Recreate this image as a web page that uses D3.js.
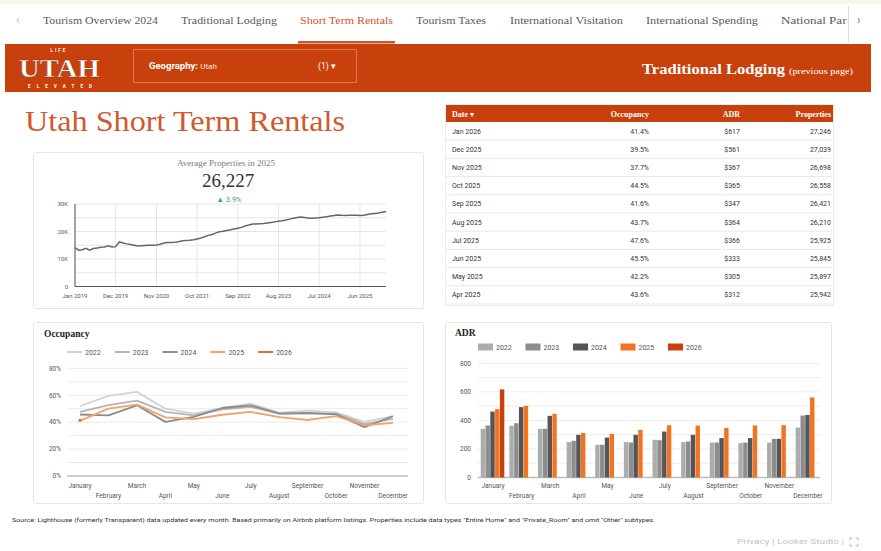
<!DOCTYPE html>
<html>
<head>
<meta charset="utf-8">
<script src="https://cdn.jsdelivr.net/npm/d3@7"></script>
<style>
body { margin: 0; background: #fff; }
svg text { font-family: Roboto, 'Liberation Sans', sans-serif; }
.serif { font-family: 'Liberation Serif', 'DejaVu Serif', serif !important; }
</style>
</head>
<body>
<svg id="page" width="881" height="551"></svg>
<script>
// ---------- data ----------
const navTabs = ['Tourism Overview 2024', 'Traditional Lodging', 'Short Term Rentals', 'Tourism Taxes',
	'International Visitation', 'International Spending', 'National Park'];

const propStart = new Date(2019, 0, 1);
const propValues = [
	14100, 13200, 13400, 13900, 13200, 13800, 14000, 14300, 14400, 14800, 14400, 14500,
	16200, 15800, 15500, 15300, 15000, 14700, 14800, 14900, 15000, 15000, 15100, 15400,
	15800, 16000, 16000, 16100, 16300, 16600, 16700, 16800, 17000, 17300, 17600, 18100,
	18600, 18900, 19400, 19900, 20100, 20400, 20600, 20900, 21200, 21500, 22000, 22400,
	22700, 22700, 22800, 22900, 23100, 23300, 23500, 23700, 23900, 24200, 24500, 24800,
	25100, 25300, 25100, 24900, 24800, 24900, 25000, 25200, 25400, 25600, 25800, 26000,
	25900, 25850, 25900, 25942, 25897, 25845, 25925, 26210, 26421, 26558, 26698, 27039,
	27246];
const propTicks = ['Jan 2019', 'Dec 2019', 'Nov 2020', 'Oct 2021', 'Sep 2022', 'Aug 2023', 'Jul 2024', 'Jun 2025'];
const kpiValue = 26227, kpiChange = 3.9;

const tableDates = ['Jan 2026', 'Dec 2025', 'Nov 2025', 'Oct 2025', 'Sep 2025', 'Aug 2025', 'Jul 2025', 'Jun 2025', 'May 2025', 'Apr 2025'];
const tableOcc = [41.4, 39.5, 37.7, 44.5, 41.6, 43.7, 47.6, 45.5, 42.2, 43.6];
const tableAdr = [617, 561, 367, 365, 347, 364, 366, 333, 305, 312];
const tableProps = [27246, 27039, 26698, 26558, 26421, 26210, 25925, 25845, 25897, 25942];

const months = ['January', 'February', 'March', 'April', 'May', 'June', 'July', 'August', 'September', 'October', 'November', 'December'];
const years = ['2022', '2023', '2024', '2025', '2026'];

const occ2022 = [52, 59.5, 62.5, 50, 46.4, 50.5, 53.8, 47, 48.5, 47.2, 40.2, 44.4];
const occ2023 = [47.6, 52.6, 56, 47.6, 45, 49.5, 51.3, 46.4, 46.5, 46.4, 38.5, 42.5];
const occ2024 = [45.7, 45, 52.5, 40.2, 44, 50.5, 52.5, 46.4, 46.8, 45.8, 36.3, 44.4];
const occ2025 = [41, 50, 53, 43.6, 42.2, 45.5, 47.6, 43.7, 41.6, 44.5, 37.7, 39.5];
const occ2026 = [41.4];

const adr2022 = [341, 362, 341, 248, 229, 248, 264, 248, 245, 241, 245, 350];
const adr2023 = [364, 380, 341, 257, 229, 245, 261, 252, 245, 245, 271, 434];
const adr2024 = [462, 493, 432, 299, 280, 299, 322, 299, 276, 276, 271, 438];
const adr2025 = [479, 502, 446, 312, 305, 333, 366, 364, 347, 365, 367, 561];
const adr2026 = [617];

const occColors = ['#d2d2d2', '#b4b4b4', '#8c8c8c', '#f5a16b', '#e8692f'];
const adrColors = ['#acacac', '#8d8d8d', '#555555', '#f47321', '#c9400d'];
const orange = '#c8410c';

// tab layout (left edge, width)
const navLeft = [43, 181, 300, 416, 510, 646, 781];
const navWidth = [115, 96, 93, 70, 113, 112, 72];

// ---------- page ----------
let svg = d3.select('#page');

svg.append('rect').attr('width', 881).attr('height', 4).attr('fill', '#f6f6ee');

// nav tabs
let clip = svg.append('defs').append('clipPath').attr('id', 'navclip');
clip.append('rect').attr('x', 30).attr('y', 0).attr('width', 817).attr('height', 44);
let nav = svg.append('g').attr('clip-path', 'url(#navclip)');
navTabs.forEach((t, i) => {
	nav.append('text')
		.attr('class', 'serif')
		.attr('x', navLeft[i]).attr('y', 24)
		.attr('textLength', navWidth[i]).attr('lengthAdjust', 'spacingAndGlyphs')
		.style('font-size', '11px')
		.style('fill', i == 2 ? '#d0562a' : '#5a5a5a')
		.text(t);
	if (i == 2)
		nav.append('rect').attr('x', navLeft[i] - 2).attr('y', 41).attr('width', navWidth[i] + 4).attr('height', 2.5).attr('fill', '#d0562a');
});
svg.append('text').attr('x', 16).attr('y', 24).style('font-size', '12px').style('fill', '#bbb').text('‹');
svg.append('text').attr('x', 857).attr('y', 24).style('font-size', '12px').style('fill', '#777').text('›');
svg.append('line').attr('x1', 848.5).attr('x2', 848.5).attr('y1', 6).attr('y2', 42).attr('stroke', '#ddd');

// header band
svg.append('rect').attr('x', 5).attr('y', 44).attr('width', 866).attr('height', 48).attr('fill', orange);
svg.append('text').attr('x', 59).attr('y', 52).attr('text-anchor', 'middle')
	.style('font-size', '4.5px').style('font-weight', 'bold').style('letter-spacing', '2px').style('fill', '#fff').text('LIFE');
svg.append('text').attr('class', 'serif').attr('x', 19).attr('y', 77)
	.attr('textLength', 81).attr('lengthAdjust', 'spacingAndGlyphs')
	.style('font-size', '26px').style('font-weight', 'bold').style('fill', '#fff')
	.style('stroke', '#7a2a08').style('stroke-width', 0.4).text('UTAH');
svg.append('text').attr('x', 28).attr('y', 88)
	.attr('textLength', 64).attr('lengthAdjust', 'spacing')
	.style('font-size', '4.5px').style('font-weight', 'bold').style('fill', '#fff').text('ELEVATED');

svg.append('rect').attr('x', 133.5).attr('y', 49.5).attr('width', 223).attr('height', 33)
	.attr('fill', 'none').attr('stroke', '#e0774c');
svg.append('text').attr('x', 149).attr('y', 69).style('fill', '#fff')
	.call(t => {
		t.append('tspan').style('font-size', '9.5px').style('font-weight', 'bold').text('Geography');
		t.append('tspan').style('font-size', '9.5px').style('font-weight', 'bold').text(': ');
		t.append('tspan').style('font-size', '8px').style('fill', '#fbe3d8').text('Utah');
	});
svg.append('text').attr('x', 318).attr('y', 69).style('font-size', '8.5px').style('fill', '#fff').text('(1)  ▾');

svg.append('text').attr('class', 'serif').attr('x', 642).attr('y', 74)
	.attr('textLength', 143).attr('lengthAdjust', 'spacingAndGlyphs')
	.style('font-size', '15.5px').style('font-weight', 'bold').style('fill', '#fff').text('Traditional Lodging');
svg.append('text').attr('class', 'serif').attr('x', 789).attr('y', 74)
	.attr('textLength', 64).attr('lengthAdjust', 'spacingAndGlyphs')
	.style('font-size', '8px').style('fill', '#fff').text('(previous page)');

// title
svg.append('text').attr('class', 'serif').attr('x', 25).attr('y', 131)
	.attr('textLength', 320).attr('lengthAdjust', 'spacingAndGlyphs')
	.style('font-size', '29px').style('fill', '#d0592d').text('Utah Short Term Rentals');

function card(x, y, w, h) {
	svg.append('rect').attr('x', x + 0.5).attr('y', y + 0.5).attr('width', w).attr('height', h).attr('rx', 2)
		.attr('fill', '#fff').attr('stroke', '#e6e6e6');
}

// ---------- properties card ----------
card(33, 152, 390, 156);
svg.append('text').attr('class', 'serif').attr('x', 226).attr('y', 166).attr('text-anchor', 'middle')
	.style('font-size', '9px').style('fill', '#7a7a7a').text('Average Properties in 2025');
svg.append('text').attr('class', 'serif').attr('x', 228).attr('y', 187).attr('text-anchor', 'middle')
	.style('font-size', '19px').style('fill', '#333').text(d3.format(',')(kpiValue));
svg.append('text').attr('x', 229).attr('y', 201.5).attr('text-anchor', 'middle')
	.style('font-size', '7.5px').style('fill', '#41a85f').text('▲ ' + kpiChange + '%');

let propDates = propValues.map((d, i) => d3.timeMonth.offset(propStart, i));
let parseTick = d3.timeParse('%b %Y');
let px = d3.scaleTime().domain(d3.extent(propDates)).range([75, 386]);
let py = d3.scaleLinear().domain([0, 30000]).range([286.5, 204]);
let pg = svg.append('g');

pg.selectAll('.hgrid').data(d3.range(0, 30001, 5000)).enter().append('line')
	.attr('x1', 75).attr('x2', 386).attr('y1', d => py(d)).attr('y2', d => py(d))
	.attr('stroke', '#e6e6e6');
pg.selectAll('.vgrid').data(propTicks.map(parseTick)).enter().append('line')
	.attr('x1', d => px(d)).attr('x2', d => px(d)).attr('y1', 204).attr('y2', 286.5)
	.attr('stroke', '#e6e6e6');
pg.append('line').attr('x1', 75).attr('x2', 75).attr('y1', 204).attr('y2', 286.5).attr('stroke', '#555');
pg.append('line').attr('x1', 75).attr('x2', 386).attr('y1', 286.5).attr('y2', 286.5).attr('stroke', '#555');
pg.selectAll('.ylab').data([0, 10000, 20000, 30000]).enter().append('text')
	.attr('x', 68).attr('y', d => py(d) + 2).attr('text-anchor', 'end')
	.style('font-size', '6px').style('fill', '#555')
	.text(d => d == 0 ? '0' : d / 1000 + 'K');
pg.selectAll('.xlab').data(propTicks).enter().append('text')
	.attr('x', d => px(parseTick(d))).attr('y', 298).attr('text-anchor', 'middle')
	.style('font-size', '6px').style('fill', '#555').text(d => d);
pg.append('path')
	.attr('d', d3.line().x((d, i) => px(propDates[i])).y(d => py(d))(propValues))
	.attr('fill', 'none').attr('stroke', '#666').attr('stroke-width', 1.5);

// ---------- table ----------
svg.append('rect').attr('x', 445.5).attr('y', 104.5).attr('width', 388).attr('height', 201)
	.attr('fill', '#fff').attr('stroke', '#ececec');
svg.append('rect').attr('x', 446).attr('y', 105).attr('width', 387).attr('height', 17).attr('fill', orange);
let cols = [
	{name: 'Date ▾', x: 452, anchor: 'start'},
	{name: 'Occupancy', x: 649, anchor: 'end'},
	{name: 'ADR', x: 740, anchor: 'end'},
	{name: 'Properties', x: 831, anchor: 'end'}];
cols.forEach(c => {
	svg.append('text').attr('class', 'serif')
		.attr('x', c.x).attr('y', 116.5).attr('text-anchor', c.anchor)
		.style('font-size', '8px').style('font-weight', 'bold').style('fill', '#fff').text(c.name);
});
let rowH = 18.2;
tableDates.forEach((d, i) => {
	let y = 122 + rowH * i;
	svg.append('line').attr('x1', 446).attr('x2', 833).attr('y1', y + rowH).attr('y2', y + rowH)
		.attr('stroke', '#e9e9e9');
	let vals = [d, tableOcc[i].toFixed(1) + '%', '$' + tableAdr[i], d3.format(',')(tableProps[i])];
	cols.forEach((c, j) => {
		svg.append('text').attr('x', c.x).attr('y', y + rowH / 2 + 2.5).attr('text-anchor', c.anchor)
			.style('font-size', '7px').style('fill', '#333').text(vals[j]);
	});
});

// ---------- occupancy card ----------
card(33, 322, 390, 181);
svg.append('text').attr('class', 'serif').attr('x', 44).attr('y', 337)
	.style('font-size', '9.5px').style('font-weight', 'bold').style('fill', '#222').text('Occupancy');

let occSeries = [occ2022, occ2023, occ2024, occ2025, occ2026];
let ox = d3.scalePoint().domain(months).range([80, 393]);
let oy = d3.scaleLinear().domain([0, 80]).range([476, 368.3]);
let og = svg.append('g');

years.forEach((yr, i) => {
	let lx = 67 + i * 47.8;
	og.append('line').attr('x1', lx).attr('x2', lx + 15).attr('y1', 352).attr('y2', 352)
		.attr('stroke', occColors[i]).attr('stroke-width', 2);
	og.append('text').attr('x', lx + 18).attr('y', 354.5)
		.style('font-size', '7px').style('fill', '#555').text(yr);
});
og.selectAll('.grid').data(oy.ticks(8).filter(d => d > 0)).enter().append('line')
	.attr('x1', 67).attr('x2', 408).attr('y1', d => oy(d)).attr('y2', d => oy(d))
	.attr('stroke', '#ececec');
og.append('line').attr('x1', 67).attr('x2', 408).attr('y1', oy(0)).attr('y2', oy(0))
	.attr('stroke', '#bdbdbd').attr('stroke-width', 1.6);
og.selectAll('.ylab').data([0, 20, 40, 60, 80]).enter().append('text')
	.attr('x', 61).attr('y', d => oy(d) + 2.3).attr('text-anchor', 'end')
	.style('font-size', '6.5px').style('fill', '#555').text(d => d + '%');
og.selectAll('.xlab').data(months).enter().append('text')
	.attr('x', d => ox(d)).attr('y', (d, i) => i % 2 ? 497.5 : 487.5).attr('text-anchor', 'middle')
	.style('font-size', '6.5px').style('fill', '#555').text(d => d);
let occLine = d3.line().x((d, i) => ox(months[i])).y(d => oy(d));
occSeries.forEach((s, i) => {
	if (s.length > 1) {
		og.append('path').attr('d', occLine(s)).attr('fill', 'none')
			.attr('stroke', occColors[i]).attr('stroke-width', 1.8).attr('stroke-linejoin', 'round');
	} else {
		og.append('circle').attr('cx', ox(months[0])).attr('cy', oy(s[0])).attr('r', 1.6).attr('fill', occColors[i]);
	}
});

// ---------- ADR card ----------
card(445, 322, 386, 181);
svg.append('text').attr('class', 'serif').attr('x', 455).attr('y', 336)
	.style('font-size', '9.5px').style('font-weight', 'bold').style('fill', '#222').text('ADR');

let adrSeries = [adr2022, adr2023, adr2024, adr2025, adr2026];
let ax0 = d3.scaleBand().domain(months).range([478.7, 822.3]);
let ax1 = d3.scaleBand().domain(years).range([2, 25.6]).paddingInner(0.08);
let ay = d3.scaleLinear().domain([0, 800]).range([477.5, 363.3]);
let ag = svg.append('g');

years.forEach((yr, i) => {
	let lx = 478 + i * 47.5;
	ag.append('rect').attr('x', lx).attr('y', 343.5).attr('width', 15).attr('height', 7).attr('fill', adrColors[i]);
	ag.append('text').attr('x', lx + 18).attr('y', 349.5)
		.style('font-size', '7px').style('fill', '#555').text(yr);
});
ag.selectAll('.grid').data(d3.range(100, 801, 100)).enter().append('line')
	.attr('x1', 478).attr('x2', 820).attr('y1', d => ay(d)).attr('y2', d => ay(d))
	.attr('stroke', '#ececec');
ag.append('line').attr('x1', 478).attr('x2', 820).attr('y1', ay(0)).attr('y2', ay(0))
	.attr('stroke', '#bdbdbd').attr('stroke-width', 1.6);
ag.selectAll('.ylab').data([0, 200, 400, 600, 800]).enter().append('text')
	.attr('x', 471).attr('y', d => ay(d) + 2.3).attr('text-anchor', 'end')
	.style('font-size', '6.5px').style('fill', '#555').text(d => d);
ag.selectAll('.xlab').data(months).enter().append('text')
	.attr('x', d => ax0(d) + ax0.bandwidth() / 2).attr('y', (d, i) => i % 2 ? 497.5 : 487.5).attr('text-anchor', 'middle')
	.style('font-size', '6.5px').style('fill', '#555').text(d => d);
adrSeries.forEach((s, i) => {
	ag.selectAll('.bar' + i).data(s).enter().append('rect')
		.attr('x', (d, j) => ax0(months[j]) + ax1(years[i]))
		.attr('y', d => ay(d))
		.attr('width', ax1.bandwidth())
		.attr('height', d => ay(0) - ay(d))
		.attr('fill', adrColors[i]);
});

// ---------- footer ----------
svg.append('text').attr('x', 12).attr('y', 522)
	.attr('textLength', 643).attr('lengthAdjust', 'spacingAndGlyphs')
	.style('font-size', '6px').style('fill', '#333')
	.text('Source: Lighthouse (formerly Transparent) data updated every month. Based primarily on Airbnb platform listings. Properties include data types "Entire Home" and "Private_Room" and omit "Other" subtypes.');
svg.append('text').attr('x', 737).attr('y', 544)
	.attr('textLength', 107).attr('lengthAdjust', 'spacingAndGlyphs')
	.style('font-size', '7px').style('fill', '#c4c4c4').text('Privacy | Looker Studio |');
let fs = svg.append('g').attr('transform', 'translate(850,538)')
	.attr('fill', 'none').attr('stroke', '#bbb').attr('stroke-width', 1);
fs.append('path').attr('d', 'M0,2.5V0H2.5 M5.5,0H8V2.5 M8,5.5V8H5.5 M2.5,8H0V5.5');
</script>
</body>
</html>
